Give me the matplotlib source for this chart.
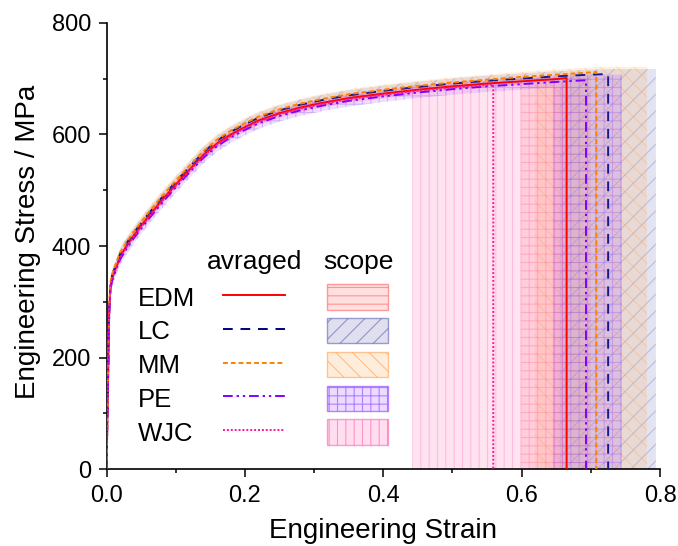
import numpy as np
import matplotlib
matplotlib.use("Agg")
import matplotlib.pyplot as plt
from matplotlib.patches import Patch
from matplotlib.lines import Line2D

plt.rcParams["font.family"] = ["Liberation Sans", "DejaVu Sans"]
plt.rcParams["hatch.linewidth"] = 0.8

# common strain grid of the averaged curves
STRAIN = [0, 0.002, 0.004, 0.006, 0.008, 0.012, 0.02, 0.03, 0.04, 0.05,
          0.06, 0.08, 0.1, 0.12, 0.14, 0.16, 0.18, 0.2, 0.22, 0.25,
          0.28, 0.31, 0.35, 0.4, 0.45, 0.5, 0.55, 0.6, 0.65, 0.7]

GROUPS = ["EDM", "LC", "MM", "PE", "WJC"]

# averaged stress (MPa) on the strain grid, up to fracture
STRESS_EDM = [0, 150, 290, 330, 342, 356, 382, 402, 420, 436, 452, 482, 510,
              537, 563, 584, 600, 613, 625, 638, 648, 656, 665, 673, 680, 686,
              691, 695, 699]
STRESS_LC = [0, 150, 295, 335, 347, 361, 387, 407, 425, 441, 457, 487, 515,
             542, 568, 589, 605, 618, 630, 643, 653, 661, 670, 678, 685, 691,
             696, 700, 704, 707]
STRESS_MM = [0, 155, 300, 338, 349, 363, 389, 409, 427, 443, 459, 489, 517,
             544, 570, 591, 607, 620, 632, 645, 655, 663, 672, 680, 687, 693,
             698, 703, 707, 711]
STRESS_PE = [0, 140, 280, 325, 337, 351, 377, 397, 415, 431, 447, 477, 505,
             532, 558, 579, 595, 608, 620, 633, 643, 651, 660, 668, 675, 681,
             686, 690, 694]
STRESS_WJC = [0, 145, 285, 328, 340, 354, 380, 400, 418, 434, 450, 480, 508,
              535, 561, 582, 598, 611, 623, 636, 646, 654, 663, 671, 678, 684,
              688]

# fracture point of the averaged curve
FRACTURE_STRAIN = [0.665, 0.725, 0.708, 0.693, 0.559]
FRACTURE_STRESS = [701, 708, 712, 697, 689]

# scope: range of fracture strain and stress spread
SCOPE_START = [0.599, 0.655, 0.619, 0.645, 0.442]
SCOPE_END = [0.70, 0.794, 0.781, 0.745, 0.66]
SCOPE_SPREAD = [7, 9, 9, 10, 7]

LINE_COLORS = ["#FF0000", "#1A1A8C", "#FF8000", "#7F00FF", "#FF1493"]
LEG_LINE_COLORS = ["#FF0000", "#000080", "#FF8000", "#8000FF", "#FF1493"]
DASHES = [(None, None), (5, 4), (2.5, 1.5), (5, 2, 1.2, 2, 1.2, 2), (1, 1)]
FACE = ["#FF8080", "#8080C0", "#FFB870", "#B070FF", "#FF80C0"]
HATCH_EDGE = ["#FF6060", "#6060B0", "#FFA050", "#9040FF", "#FF60B0"]
HATCHES = ["--", "//", "\\\\", "++", "||"]

stresses = [STRESS_EDM, STRESS_LC, STRESS_MM, STRESS_PE, STRESS_WJC]

fig = plt.figure(figsize=(6.78, 5.46), dpi=100)
ax = fig.add_axes([0.1571, 0.1405, 0.8164, 0.8179])

for i in range(len(GROUPS)):
    y = np.array(stresses[i], dtype=float)
    x = np.array(STRAIN[:len(y)])
    s = SCOPE_SPREAD[i]
    x0, x1 = SCOPE_START[i], SCOPE_END[i]
    xf, yf = FRACTURE_STRAIN[i], FRACTURE_STRESS[i]
    # scope outline: band around the curve, then full height over fracture range
    xa = np.append(x, xf)
    ya = np.append(y, yf)
    top_x = list(xa) + [x1, x1]
    top_y = list(ya + s) + [yf + s, 0]
    keep = xa < x0
    y_at0 = np.interp(x0, xa, ya) - s
    bot_x = [x0, x0] + list(xa[keep][::-1])
    bot_y = [0, y_at0] + list(np.maximum(ya[keep][::-1] - s, 0))
    ax.fill(top_x + bot_x, top_y + bot_y, facecolor=FACE[i], alpha=0.22,
            edgecolor="none", zorder=1)
    ax.fill(top_x + bot_x, top_y + bot_y, facecolor="none",
            edgecolor=HATCH_EDGE[i], alpha=0.3, hatch=HATCHES[i],
            linewidth=0, zorder=1)

for i in range(len(GROUPS)):
    y = list(stresses[i]) + [FRACTURE_STRESS[i], 0]
    x = STRAIN[:len(stresses[i])] + [FRACTURE_STRAIN[i], FRACTURE_STRAIN[i]]
    ln, = ax.plot(x, y, color=LINE_COLORS[i], lw=1.4, zorder=3)
    if DASHES[i][0] is not None:
        ln.set_dashes(DASHES[i])

ax.set_xlim(0, 0.8)
ax.set_ylim(0, 800)
ax.set_xticks([0, 0.2, 0.4, 0.6, 0.8])
ax.set_xticks([0.1, 0.3, 0.5, 0.7], minor=True)
ax.set_yticks([0, 200, 400, 600, 800])
ax.set_yticks([100, 300, 500, 700], minor=True)
ax.set_xticklabels(["0.0", "0.2", "0.4", "0.6", "0.8"])
ax.spines["top"].set_visible(False)
ax.spines["right"].set_visible(False)
for sp in ["left", "bottom"]:
    ax.spines[sp].set_linewidth(1.2)
ax.tick_params(which="major", direction="out", length=6, width=1.1,
               labelsize=17, pad=5)
ax.tick_params(which="minor", direction="out", length=3, width=1.1)

ax.set_xlabel("Engineering Strain", fontsize=20)
ax.set_ylabel("Engineering Stress / MPa", fontsize=20)
ax.xaxis.set_label_coords(0.5, -0.11)
ax.yaxis.set_label_coords(-0.118, 0.51)

# legend in three aligned columns: names, averaged lines, scope patches
leg_kw = dict(frameon=False, fontsize=18.5, loc="upper left", borderpad=0,
              borderaxespad=0, handleheight=1.13, labelspacing=0.29,
              handletextpad=0)
line_handles = []
patch_handles = []
blank = []
for i in range(len(GROUPS)):
    ln = Line2D([], [], color=LEG_LINE_COLORS[i], lw=1.4)
    if DASHES[i][0] is not None:
        ln.set_dashes(DASHES[i])
    line_handles.append(ln)
    patch_handles.append(Patch(facecolor=matplotlib.colors.to_rgba(FACE[i], 0.25),
                               edgecolor=matplotlib.colors.to_rgba(HATCH_EDGE[i], 0.6),
                               hatch=HATCHES[i], linewidth=1))
    blank.append(Line2D([], [], visible=False))
top = 0.414
leg1 = ax.legend(blank, GROUPS, bbox_to_anchor=(0.057, top), handlelength=0,
                 **leg_kw)
ax.add_artist(leg1)
leg2 = ax.legend(line_handles, [""] * 5, bbox_to_anchor=(0.2105, top),
                 handlelength=2.41, **leg_kw)
ax.add_artist(leg2)
ax.legend(patch_handles, [""] * 5, bbox_to_anchor=(0.398, top),
          handlelength=2.37, **leg_kw)
ax.text(0.268, 0.465, "avraged", transform=ax.transAxes, fontsize=19,
        ha="center", va="center")
ax.text(0.455, 0.465, "scope", transform=ax.transAxes, fontsize=19,
        ha="center", va="center")

fig.savefig("out.png", dpi=100)
